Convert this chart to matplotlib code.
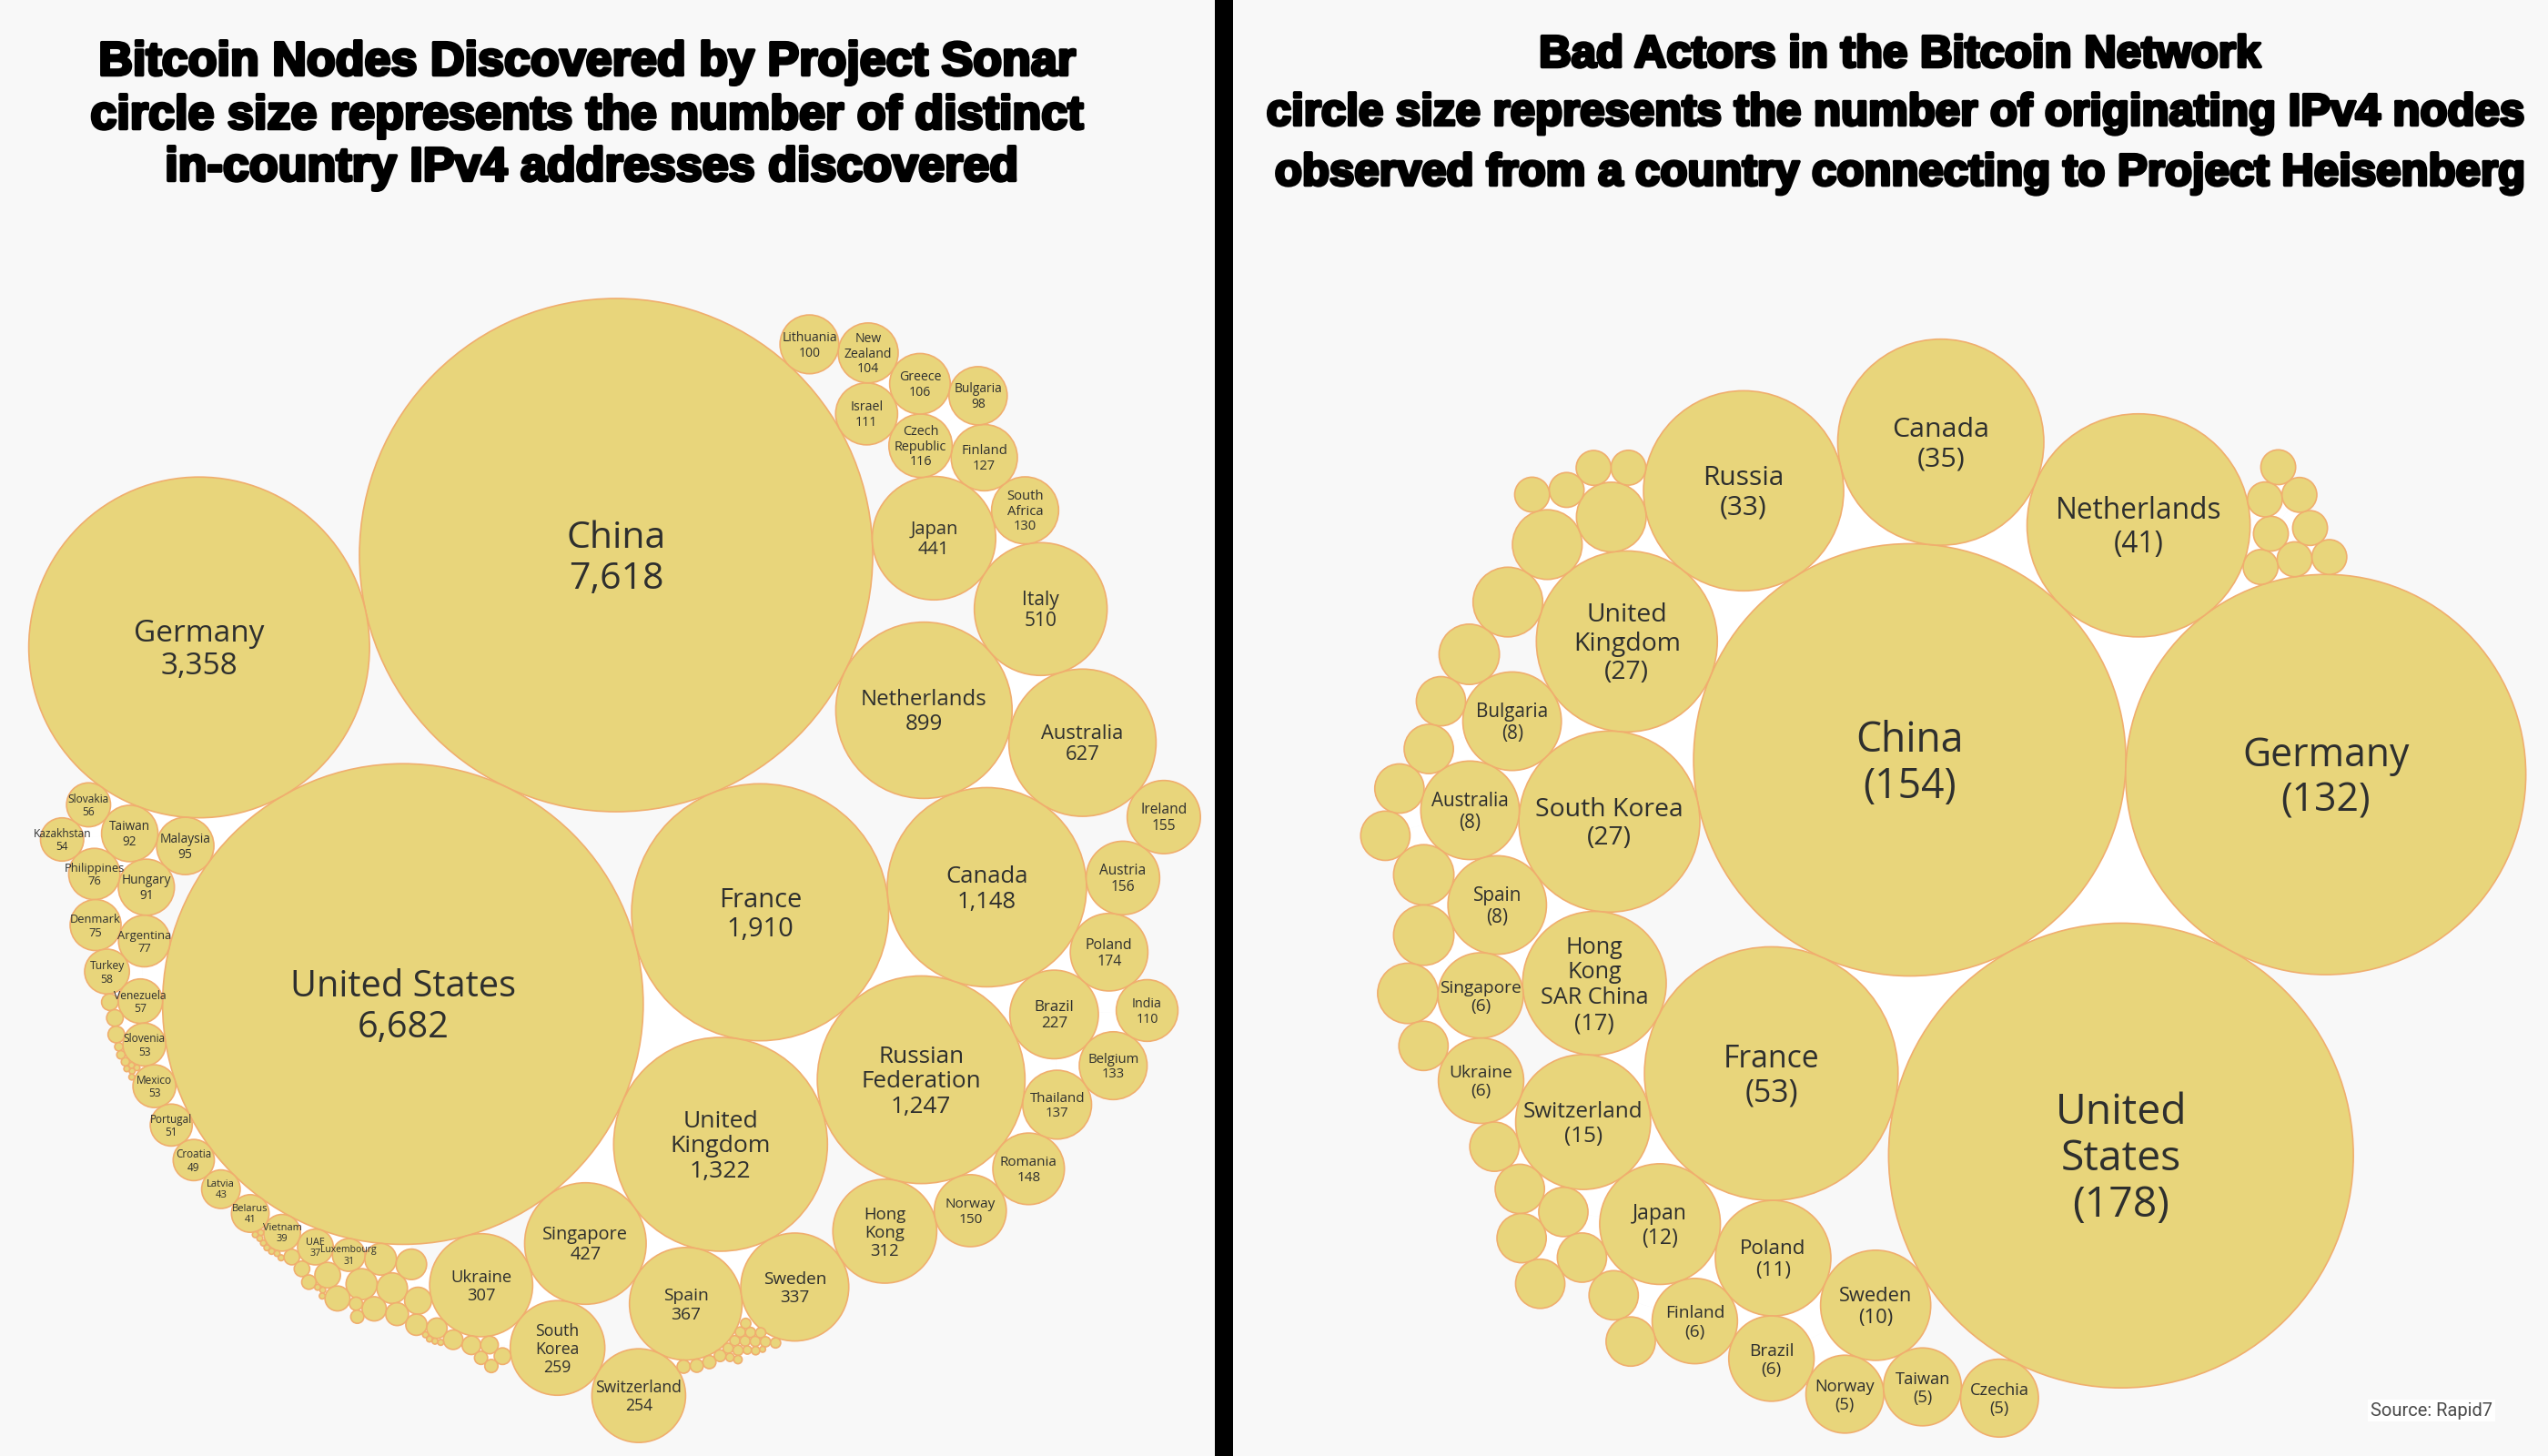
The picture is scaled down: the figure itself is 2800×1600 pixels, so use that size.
"""Bitcoin nodes vs bad actors: two packed bubble charts side by side."""
import numpy as np
import matplotlib
matplotlib.use("Agg")
import matplotlib.pyplot as plt
import matplotlib.patheffects as pe
from matplotlib.patches import Circle
from matplotlib.tri import Triangulation

FILL, EDGE, TEXT, BG = "#E8D57B", "#F0AE6E", "#2E2F2E", "#F8F8F8"

# ---- left chart: distinct IPv4 addresses per country ----
# names starting with "_" are the bubbles that carry no label in the original
left_names = ["China", "United States", "Germany", "France", "United Kingdom", "Russian Federation",
              "Canada", "Netherlands", "Australia", "Italy", "Japan", "Singapore", "Spain", "Sweden",
              "Hong Kong", "Ukraine", "South Korea", "Switzerland", "Norway", "Romania", "Thailand",
              "Brazil", "Poland", "Austria", "Ireland", "Belgium", "India", "South Africa", "Finland",
              "Czech Republic", "Israel", "Greece", "New Zealand", "Lithuania", "Bulgaria", "Malaysia",
              "Taiwan", "Slovakia", "Hungary", "Philippines", "Kazakhstan", "Argentina", "Denmark",
              "Turkey", "Venezuela", "Slovenia", "Mexico", "Portugal", "Croatia", "Latvia", "Belarus",
              "Vietnam", "UAE", "Luxembourg"]
left_values = [7618, 6682, 3358, 1910, 1322, 1247,
               1148, 899, 627, 510, 441, 427, 367, 337,
               312, 307, 259, 254, 150, 148, 137,
               227, 174, 156, 155, 133, 110, 130, 127,
               116, 111, 106, 104, 100, 98, 95,
               92, 56, 91, 76, 54, 77, 75,
               58, 57, 53, 53, 51, 49, 43, 41,
               39, 37, 31]
left_small_names = ["_u1", "_u4", "_u3", "_u2", "_u5", "_u6", "_u7", "_u8", "_u9", "_u10", "_u11", "_u12",
                    "_u13", "_u14", "_u15", "_u16", "_u17", "_u18", "_u19", "_u22", "_u21", "_u20",
                    "_v1", "_v2", "_v3", "_v4", "_w1", "_w2", "_w3",
                    "_t2", "_t1", "_t3", "_t4", "_t5", "_t6", "_t7", "_t8",
                    "_s1", "_s2", "_s3", "_s4", "_s5", "_s6", "_s7", "_s8", "_s9", "_s10", "_s11",
                    "_ca", "_cb", "_cc", "_cd", "_ce", "_ci", "_cj", "_cm", "_cl", "_ck", "_co", "_cp",
                    "_cq", "_ct", "_ch", "_cn", "_cr", "_cs", "_cf", "_cg"]
left_small_values = [29, 28, 27, 27, 21, 19, 18, 17, 15, 13, 12, 11,
                     10, 9, 8, 5, 5, 5, 5, 7, 7, 6,
                     1, 1, 1, 1, 1, 1, 1,
                     1, 1, 1, 1, 1, 1, 1, 1,
                     8, 8, 8, 2, 2, 2, 1, 1, 1, 1, 1,
                     5, 5, 5, 4, 3, 3, 3, 3, 3, 3, 3, 3,
                     3, 3, 3, 2, 2, 1, 2, 2]

# which two earlier bubbles each bubble rests on (walking a -> b, it sits on the right hand)
left_links = {
    "Germany": ("China", "United States"), "France": ("United States", "China"),
    "United Kingdom": ("United States", "France"), "Russian Federation": ("United Kingdom", "France"),
    "Canada": ("Russian Federation", "France"), "Netherlands": ("Canada", "China"),
    "Australia": ("Canada", "Netherlands"), "Italy": ("Australia", "Netherlands"),
    "Japan": ("Italy", "China"), "Singapore": ("United States", "United Kingdom"),
    "Spain": ("Singapore", "United Kingdom"), "Sweden": ("Spain", "United Kingdom"),
    "Hong Kong": ("Sweden", "Russian Federation"), "Ukraine": ("United States", "Singapore"),
    "South Korea": ("Ukraine", "Singapore"), "Switzerland": ("South Korea", "Spain"),
    "Norway": ("Hong Kong", "Russian Federation"), "Romania": ("Norway", "Russian Federation"),
    "Thailand": ("Romania", "Russian Federation"), "Brazil": ("Russian Federation", "Canada"),
    "Poland": ("Brazil", "Canada"), "Austria": ("Poland", "Canada"), "Ireland": ("Austria", "Australia"),
    "Belgium": ("Thailand", "Brazil"), "India": ("Belgium", "Poland"),
    "South Africa": ("Italy", "Japan"), "Finland": ("South Africa", "Japan"),
    "Czech Republic": ("Finland", "Japan"), "Israel": ("Czech Republic", "China"),
    "Greece": ("Czech Republic", "Israel"), "New Zealand": ("Greece", "Israel"),
    "Lithuania": ("New Zealand", "China"), "Bulgaria": ("Finland", "Greece"),
    "Malaysia": ("Germany", "United States"), "Taiwan": ("Germany", "Malaysia"),
    "Slovakia": ("Germany", "Taiwan"), "Hungary": ("Taiwan", "Malaysia"),
    "Philippines": ("Taiwan", "Hungary"), "Kazakhstan": ("Slovakia", "Philippines"),
    "Argentina": ("Hungary", "United States"), "Denmark": ("Philippines", "Argentina"),
    "Turkey": ("Denmark", "Argentina"), "Venezuela": ("Turkey", "United States"),
    "Slovenia": ("Venezuela", "United States"), "Mexico": ("Slovenia", "United States"),
    "Portugal": ("Mexico", "United States"), "Croatia": ("Portugal", "United States"),
    "Latvia": ("Croatia", "United States"), "Belarus": ("Latvia", "United States"),
    "Vietnam": ("Belarus", "United States"), "UAE": ("Vietnam", "United States"),
    "Luxembourg": ("UAE", "United States"),
    "_u1": ("Luxembourg", "United States"), "_u4": ("Luxembourg", "_u1"), "_u3": ("_u4", "_u1"),
    "_u2": ("_u3", "_u1"), "_u5": ("_u3", "Ukraine"), "_u6": ("UAE", "Luxembourg"), "_u7": ("_u6", "_u4"),
    "_u8": ("_u4", "_u3"), "_u9": ("_u8", "_u5"), "_u10": ("_u9", "_u5"), "_u11": ("_u10", "Ukraine"),
    "_u12": ("_u11", "Ukraine"), "_u13": ("_u12", "Ukraine"), "_u14": ("_u13", "Ukraine"),
    "_u15": ("_u14", "South Korea"), "_u16": ("_u13", "_u14"), "_u17": ("_u16", "_u15"),
    "_u18": ("_u7", "_u8"), "_u19": ("_u18", "_u8"), "_u22": ("Vietnam", "UAE"), "_u21": ("_u22", "UAE"),
    "_u20": ("_u21", "_u6"),
    "_v1": ("_u10", "_u11"), "_v2": ("_v1", "_u11"), "_v3": ("_v2", "_u11"), "_v4": ("_v3", "_u12"),
    "_w1": ("_u20", "_u6"), "_w2": ("_w1", "_u6"), "_w3": ("_w2", "_u7"),
    "_t2": ("Belarus", "Vietnam"), "_t1": ("Belarus", "_t2"), "_t3": ("_t1", "_t2"), "_t4": ("_t3", "Vietnam"),
    "_t5": ("_t4", "Vietnam"), "_t6": ("_t5", "Vietnam"), "_t7": ("_t6", "Vietnam"), "_t8": ("_t7", "_u22"),
    "_s1": ("Turkey", "Venezuela"), "_s2": ("_s1", "Venezuela"), "_s3": ("_s2", "Slovenia"),
    "_s4": ("_s3", "Slovenia"), "_s5": ("_s4", "Slovenia"), "_s6": ("_s5", "Slovenia"),
    "_s7": ("_s6", "Slovenia"), "_s8": ("_s7", "Slovenia"), "_s9": ("_s7", "_s8"), "_s10": ("_s6", "_s7"),
    "_s11": ("_s9", "Mexico"),
    "_ca": ("Switzerland", "Spain"), "_cb": ("_ca", "Spain"), "_cc": ("_cb", "Spain"), "_cd": ("_cc", "Spain"),
    "_ce": ("_cd", "Spain"), "_ci": ("_ce", "Spain"), "_cj": ("_ci", "Spain"), "_cm": ("_ci", "_cj"),
    "_cl": ("_cm", "_cj"), "_ck": ("_cl", "_cj"), "_co": ("_cm", "_cl"), "_cp": ("_co", "_cl"),
    "_cq": ("_co", "_cp"), "_ct": ("_cq", "Sweden"), "_ch": ("_ce", "_ci"), "_cn": ("_ch", "_cm"),
    "_cr": ("_cn", "_co"), "_cs": ("_cr", "_cq"), "_cf": ("_cd", "_ce"), "_cg": ("_cf", "_ch"),
}

# ---- right chart: originating IPv4 nodes per country ----
right_names = ["China", "United States", "Germany", "Netherlands", "Canada", "Russia", "United Kingdom",
               "South Korea", "France", "Hong Kong SAR China", "Switzerland", "Japan", "Poland", "Sweden",
               "Finland", "Brazil", "Norway", "Taiwan", "Czechia", "Bulgaria", "Australia", "Spain",
               "Singapore", "Ukraine"]
right_values = [154, 178, 132, 41, 35, 33, 27,
                27, 53, 17, 15, 12, 11, 10,
                6, 6, 5, 5, 5, 8, 8, 8,
                6, 6]
right_small_names = ["_na", "_nf", "_ne", "_nd", "_nb", "_nc", "_ng", "_nh", "_ni", "_nj", "_nk", "_nm",
                     "_nl", "_nn", "_no", "_np", "_nq", "_nr", "_ns", "_nt", "_nu", "_nv", "_nw", "_nx",
                     "_m1", "_m2", "_m3", "_m4", "_m5", "_m7", "_m6", "_m8"]
right_small_values = [4, 1, 1, 1, 4, 1, 4, 3, 2, 2, 2, 3,
                      2, 3, 3, 2, 2, 2, 2, 2, 2, 2, 2, 2,
                      1, 1, 1, 1, 1, 1, 1, 1]
right_links = {
    "Germany": ("United States", "China"), "Netherlands": ("Germany", "China"),
    "Canada": ("Netherlands", "China"), "Russia": ("Canada", "China"), "United Kingdom": ("Russia", "China"),
    "South Korea": ("United Kingdom", "China"), "France": ("China", "United States"),
    "Hong Kong SAR China": ("South Korea", "France"), "Switzerland": ("Hong Kong SAR China", "France"),
    "Japan": ("Switzerland", "France"), "Poland": ("Japan", "France"), "Sweden": ("Poland", "United States"),
    "Finland": ("Japan", "Poland"), "Brazil": ("Finland", "Poland"), "Norway": ("Brazil", "Sweden"),
    "Taiwan": ("Norway", "Sweden"), "Czechia": ("Taiwan", "United States"),
    "Bulgaria": ("United Kingdom", "South Korea"), "Australia": ("Bulgaria", "South Korea"),
    "Spain": ("Australia", "South Korea"), "Singapore": ("Spain", "Hong Kong SAR China"),
    "Ukraine": ("Singapore", "Switzerland"),
    "_na": ("Russia", "United Kingdom"), "_nf": ("Russia", "_na"), "_ne": ("_nf", "_na"), "_nd": ("_ne", "_na"),
    "_nb": ("_na", "United Kingdom"), "_nc": ("_nd", "_nb"), "_ng": ("_nb", "United Kingdom"),
    "_nh": ("_ng", "Bulgaria"), "_ni": ("_nh", "Bulgaria"), "_nj": ("_ni", "Australia"),
    "_nk": ("_nj", "Australia"), "_nm": ("Australia", "Spain"), "_nl": ("_nk", "_nm"), "_nn": ("_nm", "Spain"),
    "_no": ("_nn", "Singapore"), "_np": ("_no", "Ukraine"), "_nq": ("Ukraine", "Switzerland"),
    "_nr": ("_nq", "Switzerland"), "_ns": ("_nr", "Switzerland"), "_nt": ("_nr", "_ns"),
    "_nu": ("_ns", "Japan"), "_nv": ("_nt", "_nu"), "_nw": ("_nu", "Japan"), "_nx": ("_nw", "Finland"),
    "_m1": ("Germany", "Netherlands"), "_m2": ("Germany", "_m1"), "_m3": ("Germany", "_m2"),
    "_m4": ("_m2", "_m1"), "_m5": ("_m3", "_m2"), "_m7": ("_m4", "Netherlands"), "_m6": ("_m5", "_m7"),
    "_m8": ("_m6", "_m7"),
}

wrapped = {"United Kingdom": "United\nKingdom", "Russian Federation": "Russian\nFederation",
           "Hong Kong": "Hong\nKong", "South Korea": "South\nKorea", "South Africa": "South\nAfrica",
           "Czech Republic": "Czech\nRepublic", "New Zealand": "New\nZealand",
           "Hong Kong SAR China": "Hong\nKong\nSAR China", "United States": "United States"}
wrapped_right = dict(wrapped, **{"United States": "United\nStates", "South Korea": "South Korea"})


def pack(names, values, links, scale, center, angle):
    """Place every bubble from its radius: first at center, second touching it, rest on their two links."""
    placed = {}
    for i, (name, value) in enumerate(zip(names, values)):
        r = scale * np.sqrt(value)
        if i == 0:
            x, y = center
        elif i == 1:
            x0, y0, r0 = placed[names[0]]
            x = x0 + (r0 + r) * np.cos(np.radians(angle))
            y = y0 + (r0 + r) * np.sin(np.radians(angle))
        else:
            ax_, ay_, ar = placed[links[name][0]]
            bx_, by_, br = placed[links[name][1]]
            d = np.hypot(bx_ - ax_, by_ - ay_)
            ux, uy = (bx_ - ax_) / d, (by_ - ay_) / d
            along = ((ar + r) ** 2 - (br + r) ** 2 + d ** 2) / (2 * d)
            h = np.sqrt(max((ar + r) ** 2 - along ** 2, 0))
            x, y = ax_ + along * ux - h * uy, ay_ + along * uy + h * ux
        placed[name] = (x, y, r)
    return placed


def draw(ax, placed, values, fmt, font_size, wrap, keep_grey=()):
    names = list(placed)
    xs = np.array([p[0] for p in placed.values()])
    ys = np.array([p[1] for p in placed.values()])
    rs = np.array([p[2] for p in placed.values()])

    # the gaps inside the cluster are white, the page around it is grey
    tri = Triangulation(xs, ys)
    for t in tri.triangles:
        gaps = [np.hypot(xs[t[i]] - xs[t[i - 1]], ys[t[i]] - ys[t[i - 1]]) - rs[t[i]] - rs[t[i - 1]] for i in range(3)]
        if max(gaps) < 24 and not any(names[i] in keep_grey for i in t):
            ax.fill(xs[t], ys[t], color="white", lw=0, zorder=1)

    for name, value in zip(names, values):
        x, y, r = placed[name]
        ax.add_patch(Circle((x, y), r, facecolor=FILL, edgecolor=EDGE, lw=1.2, zorder=2))
        if not name.startswith("_"):
            size = font_size(value)
            ax.text(x, y + 0.13 * size, wrap.get(name, name) + "\n" + fmt(value), ha="center", va="center",
                    color=TEXT, fontsize=size, linespacing=1.15, zorder=3)


fig = plt.figure(figsize=(28, 16), dpi=100, facecolor=BG)
ax = fig.add_axes([0, 0, 1, 1])
ax.set_xlim(0, 2800)
ax.set_ylim(1600, 0)
ax.axis("off")
plt.rcParams["font.family"] = ["Open Sans", "DejaVu Sans"]

all_left = left_names + left_small_names
all_left_v = left_values + left_small_values
placed = pack(all_left, all_left_v, left_links, 3.231, (677, 610), 115.4)
draw(ax, placed, all_left_v, lambda v: f"{v:,}", lambda v: 10 * (v / 100) ** 0.25, wrapped, keep_grey=("China",))

all_right = right_names + right_small_names
all_right_v = right_values + right_small_values
placed = pack(all_right, all_right_v, right_links, 19.14, (2098.6, 835), 61.9)
draw(ax, placed, all_right_v, lambda v: f"({v})", lambda v: 13.8 * (v / 6) ** 0.26, wrapped_right)

ax.axvspan(1335, 1355, color="black", lw=0, zorder=5)

stroke = [pe.withStroke(linewidth=2.5, foreground="black")]
titles = [(645, 69, 37.5, "Bitcoin Nodes Discovered by Project Sonar"),
          (645, 128, 37.5, "circle size represents the number of distinct"),
          (650, 185, 37.5, "in-country IPv4 addresses discovered"),
          (2087, 61, 35.4, "Bad Actors in the Bitcoin Network"),
          (2082, 125, 35.4, "circle size represents the number of originating IPv4 nodes"),
          (2087, 191, 35.4, "observed from a country connecting to Project Heisenberg")]
for x, y, size, s in titles:
    ax.text(x, y, s, ha="center", va="center", family="Liberation Sans", fontweight="bold", fontsize=size,
            color="black", path_effects=stroke, zorder=6)

ax.text(2672, 1550, "Source: Rapid7", ha="center", va="center", family="Roboto", fontsize=14.5,
        color="#4A4A4A", zorder=6, bbox=dict(facecolor="white", edgecolor="none", pad=2))

fig.savefig("out.png", dpi=100, facecolor=BG)
